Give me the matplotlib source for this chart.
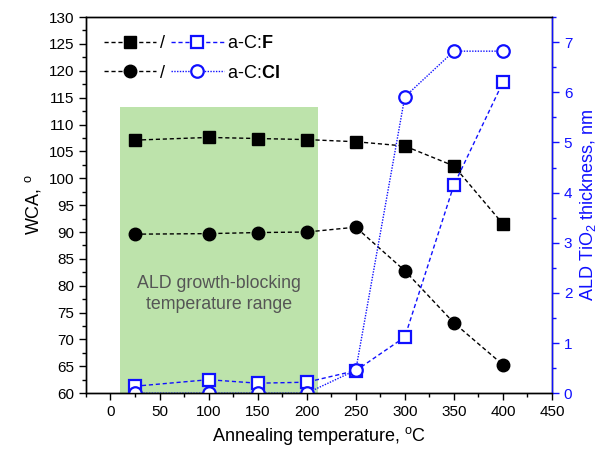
import numpy as np
import matplotlib as mpl
mpl.use("Agg")
import matplotlib.pyplot as plt
from matplotlib.ticker import MultipleLocator

mpl.rcParams.update({
    "font.family": "sans-serif",
    "font.sans-serif": ["Liberation Sans", "DejaVu Sans"],
    "mathtext.fontset": "custom",
    "mathtext.rm": "Liberation Sans",
    "mathtext.bf": "Liberation Sans:bold",
    "font.size": 10.5,
})

# data
temp = [25, 100, 150, 200, 250, 300, 350, 400]
wca_F = [107.1, 107.6, 107.4, 107.2, 106.8, 106.0, 102.3, 91.5]
wca_Cl = [89.6, 89.7, 89.9, 90.0, 90.9, 82.8, 73.1, 65.3]
tio2_F = [0.14, 0.27, 0.20, 0.22, 0.45, 1.12, 4.15, 6.20]
tio2_Cl = [0.0, 0.0, 0.0, 0.0, 0.46, 5.91, 6.82, 6.82]
block_range = (10, 212)
block_top = 113.2

BLUE = "#1010ff"

fig, ax = plt.subplots(figsize=(6.14, 4.61), dpi=100)
fig.subplots_adjust(left=0.14, right=0.899, top=0.963, bottom=0.147)
ax2 = ax.twinx()

ax.fill_between(block_range, 60, block_top, color="#bde3ab", lw=0, zorder=0)
ax.text(np.mean(block_range), 78.4, "ALD growth-blocking\ntemperature range",
        ha="center", va="center", color="#555555", fontsize=12.8, linespacing=1.3)

ms = 9
h1, = ax.plot(temp, wca_F, ls=(0, (3, 2)), color="black", lw=1, marker="s", ms=ms)
h2, = ax.plot(temp, wca_Cl, ls=(0, (3, 2)), color="black", lw=1, marker="o", ms=ms)
h3, = ax2.plot(temp, tio2_F, ls=(0, (3, 2)), color=BLUE, lw=1, marker="s", ms=ms,
               mfc="white", mec=BLUE, mew=1.6)
h4, = ax2.plot(temp, tio2_Cl, ls=(0, (1, 1)), color=BLUE, lw=1, marker="o", ms=ms,
               mfc="white", mec=BLUE, mew=1.6)

ax.set_xlim(-25, 450)
ax.set_ylim(60, 130)
ax2.set_ylim(0, 7.5)
ax.xaxis.set_major_locator(MultipleLocator(50))
ax.xaxis.set_minor_locator(MultipleLocator(25))
ax.yaxis.set_major_locator(MultipleLocator(5))
ax.yaxis.set_minor_locator(MultipleLocator(2.5))
ax2.yaxis.set_major_locator(MultipleLocator(1))
ax2.yaxis.set_minor_locator(MultipleLocator(0.5))

ax.tick_params(which="major", length=5, width=1, labelsize=11)
ax.tick_params(which="minor", length=3, width=1)
ax2.tick_params(which="major", length=5, width=1, colors=BLUE, labelsize=11)
ax2.tick_params(which="minor", length=3, width=1, colors=BLUE)
ax2.spines["right"].set_color(BLUE)
for s in ax.spines.values():
    s.set_linewidth(1)
for s in ax2.spines.values():
    s.set_linewidth(1)

ax.set_xlabel(r"Annealing temperature, $^{\rm o}$C", fontsize=13)
ax.set_ylabel(r"WCA, $^{\rm o}$", fontsize=13)
ax2.set_ylabel(r"ALD TiO$_2$ thickness, nm", fontsize=13, color=BLUE)

ax2.legend([h1, h2, h3, h4], ["/", "/", r"a-C:$\mathbf{F}$", r"a-C:$\mathbf{Cl}$"],
           ncol=2, loc="upper left", bbox_to_anchor=(0.0, 1.0), frameon=False,
           handlelength=2.9, handletextpad=0.2, columnspacing=0.35,
           labelspacing=0.7, fontsize=13, borderaxespad=0.6)

fig.savefig("out.png", dpi=100)
